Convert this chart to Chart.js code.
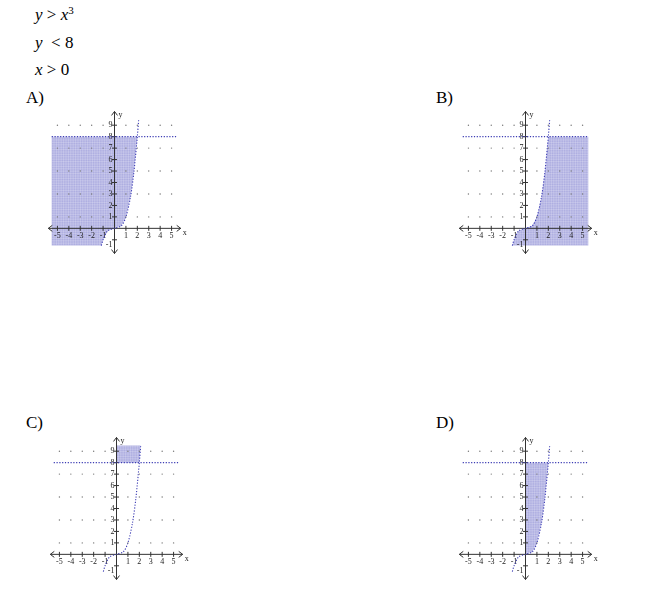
<!DOCTYPE html>
<html><head><meta charset="utf-8">
<script src="https://cdn.jsdelivr.net/npm/chart.js@4.4.1/dist/chart.umd.min.js"></script>
<style>
body{margin:0;background:#fff;width:650px;height:591px;position:relative;overflow:hidden;font-family:"Liberation Serif",serif;color:#000}
.t{position:absolute;font-size:17px;line-height:17px;white-space:pre}
canvas{position:absolute}
</style></head><body>
<div class="t" style="left:35px;top:6px"><i>y</i> &gt; <i>x</i><sup style="font-size:11px;vertical-align:6px;line-height:0">3</sup></div>
<div class="t" style="left:35px;top:34px"><i>y</i>  &lt; 8</div>
<div class="t" style="left:35px;top:61px"><i>x</i> &gt; 0</div>
<div class="t" style="left:26px;top:89px">A)</div>
<div class="t" style="left:436px;top:89px">B)</div>
<div class="t" style="left:26px;top:414px">C)</div>
<div class="t" style="left:436px;top:414px">D)</div>
<canvas id="cA" width="145" height="157"></canvas>
<canvas id="cB" width="145" height="157"></canvas>
<canvas id="cC" width="145" height="157"></canvas>
<canvas id="cD" width="145" height="157"></canvas>
<script>
// ---- data ----
const xTicks = [-5, -4, -3, -2, -1, 1, 2, 3, 4, 5];
const yTicks = [-1, 1, 2, 3, 4, 5, 6, 7, 8, 9];
const dotRows = [1, 3, 5, 7, 9];
const curve = [[-1.15, -1.5], [-1, -1], [-0.6, -0.22], [0, 0], [0.6, 0.22], [1, 1], [1.4, 2.74], [1.7, 4.91], [2, 8], [2.12, 9.5]];
const boundary = [[-5.5, 8], [5.5, 8]];
const shadeA = [[-5.5, -1.5], [-1.15, -1.5], [-1, -1], [-0.6, -0.22], [0, 0], [0.6, 0.22], [1, 1], [1.4, 2.74], [1.7, 4.91], [2, 8], [-5.5, 8]];
const shadeB = [[-1.15, -1.5], [5.5, -1.5], [5.5, 8], [2, 8], [1.7, 4.91], [1.4, 2.74], [1, 1], [0.6, 0.22], [0, 0], [-0.6, -0.22], [-1, -1]];
const shadeC = [[0, 8], [2, 8], [2.1, 9.5], [0, 9.5]];
const shadeD = [[0, 0], [0.6, 0.22], [1, 1], [1.4, 2.74], [1.7, 4.91], [2, 8], [0, 8]];

const UNIT = 12.1;
const graphs = [
    { id: 'cA', ox: 115, oy: 231, shade: shadeA },
    { id: 'cB', ox: 526, oy: 231, shade: shadeB },
    { id: 'cC', ox: 117, oy: 557, shade: shadeC },
    { id: 'cD', ox: 526, oy: 557, shade: shadeD },
];

const dots = [];
dotRows.forEach(y => { for (let x = -5; x <= 5; x++) if (x !== 0) dots.push({ x, y }); });

const BLUE = '#3c3cb4';

const graphPlugin = {
    id: 'graph',
    beforeDatasetsDraw(chart) {
        const { ctx, scales: { x, y } } = chart;
        const poly = chart.options.plugins.graph.shade;
        ctx.save();
        ctx.beginPath();
        poly.forEach((p, i) => {
            const px = x.getPixelForValue(p[0]), py = y.getPixelForValue(p[1]);
            i ? ctx.lineTo(px, py) : ctx.moveTo(px, py);
        });
        ctx.closePath();
        ctx.fillStyle = 'rgba(120,120,205,0.6)';
        ctx.fill();
        ctx.clip();
        // fine grid texture
        ctx.strokeStyle = 'rgba(255,255,255,0.35)';
        ctx.lineWidth = 0.6;
        for (let i = 0; i < chart.width; i += 2.4) {
            ctx.beginPath(); ctx.moveTo(i, 0); ctx.lineTo(i, chart.height); ctx.stroke();
        }
        for (let j = 0; j < chart.height; j += 2.4) {
            ctx.beginPath(); ctx.moveTo(0, j); ctx.lineTo(chart.width, j); ctx.stroke();
        }
        ctx.restore();

        // axes
        const x0 = x.getPixelForValue(0), y0 = y.getPixelForValue(0);
        ctx.save();
        ctx.strokeStyle = '#333';
        ctx.lineWidth = 1;
        const xl = x.getPixelForValue(-5.8), xr = x.getPixelForValue(5.8);
        const yt = y.getPixelForValue(10.2), yb = y.getPixelForValue(-2.2);
        ctx.beginPath();
        ctx.moveTo(xl, y0); ctx.lineTo(xr, y0);
        ctx.moveTo(x0, yb); ctx.lineTo(x0, yt);
        // arrows
        ctx.moveTo(xl + 4, y0 - 3); ctx.lineTo(xl, y0); ctx.lineTo(xl + 4, y0 + 3);
        ctx.moveTo(xr - 4, y0 - 3); ctx.lineTo(xr, y0); ctx.lineTo(xr - 4, y0 + 3);
        ctx.moveTo(x0 - 3, yt + 4); ctx.lineTo(x0, yt); ctx.lineTo(x0 + 3, yt + 4);
        ctx.moveTo(x0 - 3, yb - 4); ctx.lineTo(x0, yb); ctx.lineTo(x0 + 3, yb - 4);
        xTicks.forEach(v => { const p = x.getPixelForValue(v); ctx.moveTo(p, y0 - 2.5); ctx.lineTo(p, y0 + 2.5); });
        yTicks.forEach(v => { const p = y.getPixelForValue(v); ctx.moveTo(x0 - 2.5, p); ctx.lineTo(x0 + 2.5, p); });
        ctx.stroke();
        ctx.fillStyle = '#222';
        ctx.font = '8px "Liberation Serif"';
        ctx.textAlign = 'center';
        ctx.textBaseline = 'top';
        xTicks.forEach(v => ctx.fillText(String(v), x.getPixelForValue(v), y0 + 4));
        ctx.fillText('x', xr + 4, y0 + 1);
        ctx.textAlign = 'right';
        ctx.textBaseline = 'middle';
        yTicks.forEach(v => ctx.fillText(String(v), x0 - 2, y.getPixelForValue(v) + (v === -1 ? 5 : 0)));
        ctx.textAlign = 'left';
        ctx.fillText('y', x0 + 4, yt + 3);
        ctx.restore();
    },
};

graphs.forEach(g => {
    const cv = document.getElementById(g.id);
    cv.style.left = (g.ox - 6 * UNIT) + 'px';
    cv.style.top = (g.oy - 10.5 * UNIT) + 'px';
    new Chart(cv, {
        type: 'scatter',
        data: {
            datasets: [
                { data: dots, pointRadius: 0.7, pointBackgroundColor: '#777', pointBorderWidth: 0 },
                { data: boundary.map(p => ({ x: p[0], y: p[1] })), showLine: true, pointRadius: 0,
                  borderColor: BLUE, borderWidth: 1.1, borderDash: [1.2, 1.6] },
                { data: curve.map(p => ({ x: p[0], y: p[1] })), showLine: true, pointRadius: 0, tension: 0.3,
                  borderColor: BLUE, borderWidth: 1.1, borderDash: [1.2, 1.6] },
            ],
        },
        options: {
            responsive: false,
            animation: false,
            layout: { padding: 0 },
            plugins: { legend: { display: false }, tooltip: { enabled: false }, graph: { shade: g.shade } },
            scales: {
                x: { type: 'linear', min: -6, max: 6, display: false },
                y: { type: 'linear', min: -2.5, max: 10.5, display: false },
            },
        },
        plugins: [graphPlugin],
    });
});
</script>
</body></html>
